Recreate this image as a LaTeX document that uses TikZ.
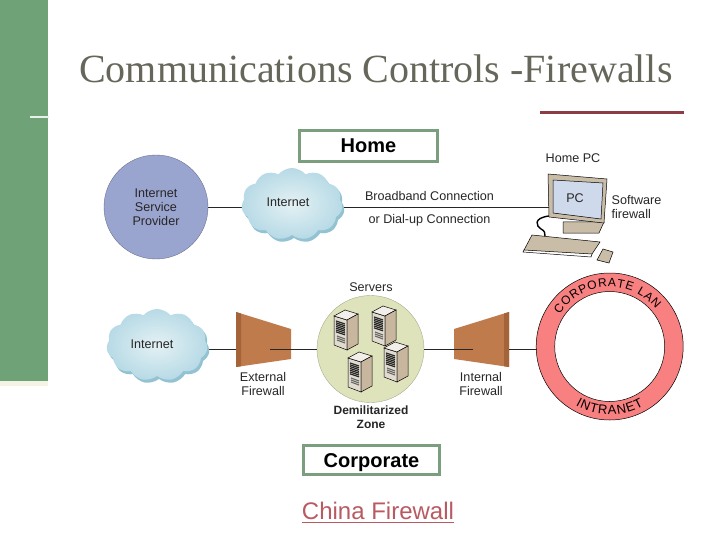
\documentclass[tikz,border=0pt]{standalone}
\usepackage{fontspec}
\setmainfont{Liberation Sans}
\newfontfamily\titlefont{Liberation Serif}
\usepackage{xcolor}
\usepackage{tikz}
\usetikzlibrary{arrows.meta,positioning,shapes.symbols,shadows,backgrounds,decorations.text}
\definecolor{barg}{HTML}{6FA277}
\definecolor{boxg}{HTML}{7A9E7E}
\definecolor{titleg}{HTML}{66665A}
\definecolor{redline}{HTML}{8C3C44}
\definecolor{linkr}{HTML}{B85A62}
\definecolor{ispb}{HTML}{9AA5CF}
\definecolor{dmzg}{HTML}{DFE3BB}
\definecolor{fwb}{HTML}{BF7B4B}
\definecolor{fwd}{HTML}{A5633A}
\definecolor{ringr}{HTML}{F88080}
\definecolor{tan}{HTML}{C9BDA8}
\definecolor{screenb}{HTML}{CFD9EC}
\definecolor{cloudi}{HTML}{E4F1F4}
\definecolor{cloudo}{HTML}{B7DAE6}
\definecolor{cloudd}{HTML}{93C3D2}
\tikzset{
  lbl/.style={align=center, text=black!85, inner sep=0pt, font=\fontsize{12.6}{14}\selectfont},
  boxlbl/.style={draw=boxg, line width=3pt, fill=white, inner sep=0pt, text height=14.5pt, text depth=0.5pt, font=\bfseries\fontsize{20}{22}\selectfont},
  isp/.style={circle, draw=ispb!70!black, fill=ispb, minimum size=104pt, inner sep=0pt},
  dmz/.style={circle, draw=dmzg!75!black, fill=dmzg, minimum size=107pt, inner sep=0pt},
  cloudnet/.style={cloud, cloud puffs=11, cloud puff arc=100, aspect=1.4, minimum width=101pt, minimum height=72pt,
    inner sep=0pt, inner color=cloudi, outer color=cloudo,
    drop shadow={shadow xshift=2pt, shadow yshift=-3pt, fill=cloudd, opacity=1}},
  wire/.style={line width=0.7pt, black!85},
  outl/.style={draw=black, line width=0.5pt},
  server/.pic={
    \fill[outl, fill=tan!55] (0,0) -- (13,4) -- (13,34) -- (0,29) -- cycle;
    \fill[outl, fill=tan!25] (0,0) -- (11,-6) -- (24,-2) -- (13,4) -- cycle;
    \fill[outl, fill=tan!90!brown] (13,4) -- (24,-2) -- (24,28) -- (13,34) -- cycle;
    \foreach \t in {5,6.8,...,17} \draw[line width=1.2pt, black!85] (2,\t) -- (11,\t+3);
    \foreach \t in {20,22,24} \draw[line width=1.1pt, black!60] (3,\t) -- (11,\t+3);
  }
}
\begin{document}
\begin{tikzpicture}[x=1pt, y=-1pt]
    \useasboundingbox (0,0) rectangle (720,540);
    % Slide frame
    \fill[black!5!yellow!8!white!92!gray] (0,381) rectangle (48,386);
    \fill[barg] (0,0) rectangle (48,381);
    \draw[line width=1.5pt, green!15!gray!15] (30,117) -- (49,117);
    \draw[line width=3pt, redline] (540,112.5) -- (684,112.5);
    \node[anchor=base west, inner sep=0pt, text=titleg, font=\titlefont\fontsize{40}{44}\selectfont] (title) at (79,83) {Communications Controls -Firewalls};
    % Captions
    \node[boxlbl, minimum width=138pt, minimum height=31pt] (home) at (368.5,146) {Home};
    \node[boxlbl, minimum width=136pt, minimum height=29pt] (corp) at (371.5,460) {Corporate};
    \node[inner sep=0pt, text=linkr, font=\fontsize{24}{28}\selectfont] (china) at (378,510.5) {China Firewall};
    \draw[line width=1.5pt, linkr] ([yshift=-3pt]china.south west) -- ([yshift=-3pt]china.south east);
    % Home network
    \node[isp, lbl] (prov) at (156,207) {Internet\\Service\\Provider};
    \node[cloudnet] (cloudA) at (292,204) {};
    \node[lbl] (cloudAlbl) at (288,202) {Internet};
    \coordinate (pcL) at (550,207);
    \node[lbl] (broad) at (429.5,196) {Broadband Connection};
    \node[lbl] (dial) at (429.5,220) {or Dial-up Connection};
    \node[lbl] (homepc) at (573,158) {Home PC};
    \node[lbl, align=left] (soft) at (636.5,207) {Software\\firewall};
    % PC
    \draw[line width=1.4pt] (549,216) .. controls (533,218) and (536,226) .. (541,229) .. controls (545,231) and (545,233) .. (545,236);
    \fill[outl, fill=tan] (563,222) -- (588,222) -- (604,222) -- (599,233) -- (563,233) -- cycle;
    \fill[outl, fill=tan] (548,174) -- (607,179) -- (604,223) -- (549,217) -- cycle;
    \fill[outl, fill=screenb] (553,180) -- (603,183) -- (601,219) -- (553,213) -- cycle;
    \node[lbl] (pclbl) at (575,198) {PC};
    \fill[outl, fill=tan] (532,235) -- (600,242) -- (592,254) -- (524,250) -- cycle;
    \draw[line width=0.5pt] (524,250) -- (523,252) -- (591,257) -- (592,254);
    \fill[outl, fill=tan] (603,249) -- (613,252) -- (609,263) -- (597,260) -- cycle;
    % Corporate network
    \node[cloudnet] (cloudB) at (157,345) {};
    \node[lbl] (cloudBlbl) at (152,344) {Internet};
    \fill[fwb] (236,312) -- (291,329) -- (291,359) -- (236,367) -- cycle;
    \fill[fwd] (236,312) -- (241,313.5) -- (241,366.3) -- (236,367) -- cycle;
    \coordinate (extL) at (236,349);
    \coordinate (extM) at (270,349);
    \node[lbl] (extlbl) at (263,383.5) {External\\Firewall};
    \node[dmz] (dmzone) at (370.5,349) {};
    \node[lbl] (srv) at (371,287) {Servers};
    \node[lbl, font=\bfseries\fontsize{12}{14}\selectfont] (dmzlbl) at (371,417) {Demilitarized\\Zone};
    \pic at (334,316) {server};
    \pic at (372,312) {server};
    \pic at (348,358) {server};
    \pic at (384,348) {server};
    \fill[fwb] (454,329) -- (509,312) -- (509,367) -- (454,359) -- cycle;
    \fill[fwd] (504,313.5) -- (509,312) -- (509,367) -- (504,366.3) -- cycle;
    \coordinate (intM) at (473,349);
    \coordinate (intR) at (509,349);
    \node[lbl] (intlbl) at (481,383.5) {Internal\\Firewall};
    \node[circle, outl, fill=ringr, minimum size=147pt, inner sep=0pt] (ring) at (609.7,346.5) {};
    \node[circle, outl, fill=white, minimum size=110pt, inner sep=0pt] (ringhole) at (609.7,346.5) {};
    \coordinate (ringW) at (536.5,349);
    \path[decorate, decoration={text along path, text align={fit to path}, text={|\fontsize{12}{14}\selectfont|CORPORATE LAN}}]
      ([shift={(147:59.5pt)}]ring.center) arc[start angle=147, end angle=39, radius=59.5pt];
    \path[decorate, decoration={text along path, text align={fit to path}, text={|\fontsize{13}{14}\selectfont|INTRANET}}]
      ([shift={(240:68pt)}]ring.center) arc[start angle=240, end angle=300, radius=68pt];
    % Wires
    \begin{scope}[on background layer]
      \draw[wire] (prov.east) -- (prov.east -| cloudA.center);
      \draw[wire] (prov.east -| cloudA.center) -- (pcL);
      \draw[wire] (extL -| cloudB.center) -- (extL);
    \end{scope}
    \draw[wire] (extM) -- (dmzone.west);
    \draw[wire] (dmzone.east) -- (intM);
    \draw[wire] (intR) -- (ringW);
  \end{tikzpicture}
\end{document}
